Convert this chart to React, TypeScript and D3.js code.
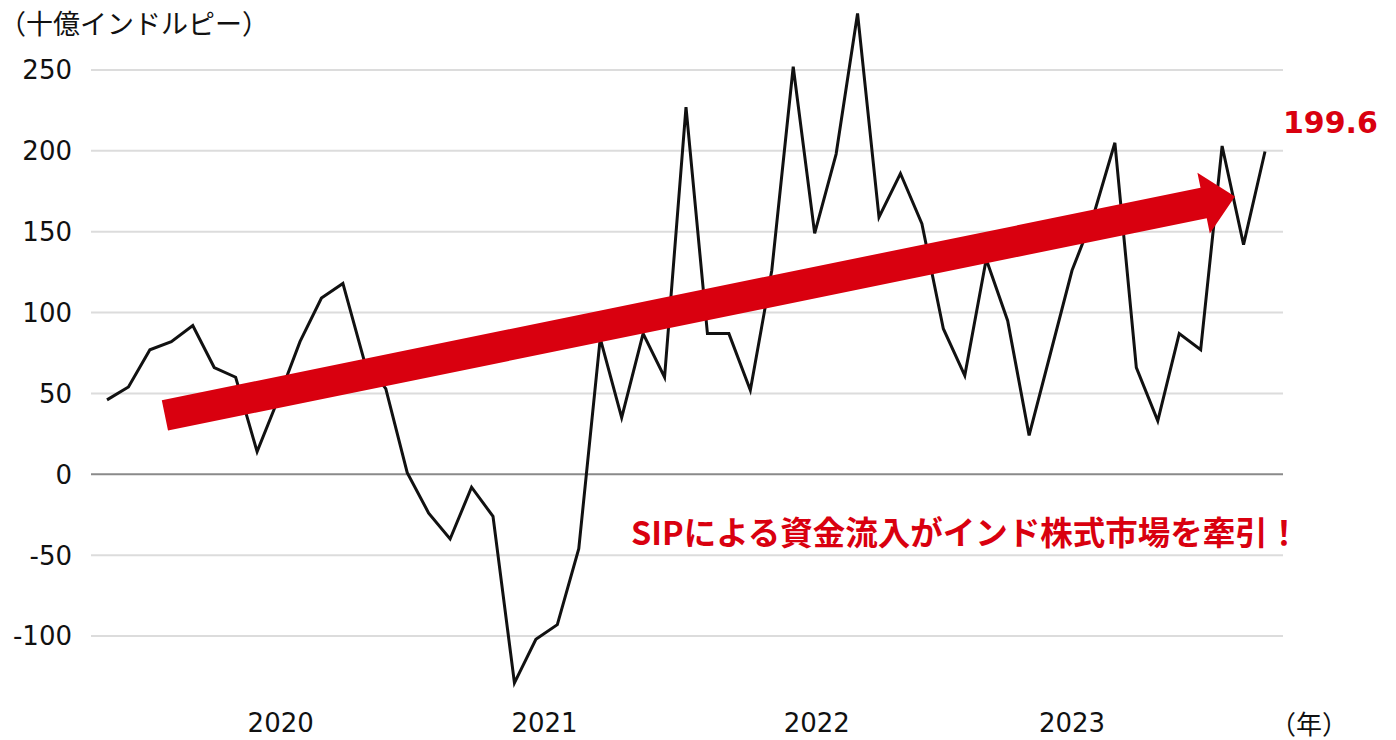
import React from 'react';
import * as d3 from 'd3';

// monthly net inflows (bn INR)
const values = [
  46, 54, 77, 82, 92, 66, 60, 14, 47, 82,
  109, 118, 70, 53, 1, -24, -40, -8, -26, -129,
  -102, -93, -46, 84, 35, 87, 60, 227, 87, 87,
  52, 126, 252, 149, 198, 285, 159, 186, 155, 90,
  61, 133, 95, 24, 75, 126, 160, 205, 66, 33,
  87, 77, 203, 142, 199.6,
];
const yTicks = [250, 200, 150, 100, 50, 0, -50, -100];
const yearLabels = ['2020', '2021', '2022', '2023'];
const yearPos = [8.1, 20.4, 33.1, 45.0]; // in month-index units
const arrowFrom = [2.7, 36.4];
const arrowTo = [52.6, 171.7];
const lastLabel = '199.6';
const unitLabel = '（十億インドルピー）';
const note = 'SIPによる資金流入がインド株式市場を牽引！';

const W = 1396;
const H = 740;
const NUM_FONT = '"DejaVu Sans", Verdana, sans-serif';
const JP_FONT = '"Noto Sans CJK JP", "Noto Sans", sans-serif';
const RED = '#d9000f';

export default function App() {
  const x = d3.scaleLinear().domain([0, values.length - 1]).range([107, 1265]);
  const y = d3.scaleLinear().domain([-100, 250]).range([636, 70]);
  const gridX0 = 91;
  const gridX1 = 1283;

  const line = d3.line<number>()
    .x((_, i) => x(i))
    .y(d => y(d));

  // arrow polygon from its two data-space end points
  const tx = x(arrowFrom[0]), ty = y(arrowFrom[1]);
  const hx = x(arrowTo[0]), hy = y(arrowTo[1]);
  const len = Math.hypot(hx - tx, hy - ty);
  const ux = (hx - tx) / len, uy = (hy - ty) / len;
  const nx = -uy, ny = ux;
  const shaft = 15.5, headW = 31, headL = 32;
  const bx = hx - ux * headL, by = hy - uy * headL;
  const pts: [number, number][] = [
    [tx + nx * shaft, ty + ny * shaft],
    [bx + nx * shaft, by + ny * shaft],
    [bx + nx * headW, by + ny * headW],
    [hx, hy],
    [bx - nx * headW, by - ny * headW],
    [bx - nx * shaft, by - ny * shaft],
    [tx - nx * shaft, ty - ny * shaft],
  ];

  return (
    <svg width={W} height={H} style={{ position: 'absolute', left: 0, top: 0, background: '#fff' }}>
      <text x={-1} y={22} dominantBaseline="central" fontFamily={JP_FONT} fontSize={27} fill="#111">
        {unitLabel}
      </text>

      {yTicks.map(t => (
        <g key={t}>
          <line x1={gridX0} x2={gridX1} y1={y(t)} y2={y(t)}
            stroke={t === 0 ? '#8a8a8a' : '#dcdcdc'} strokeWidth={2} />
          <text x={72} y={y(t)} dy="0.36em" textAnchor="end"
            fontFamily={NUM_FONT} fontSize={26} fill="#111">{t}</text>
        </g>
      ))}

      {yearLabels.map((lab, i) => (
        <text key={lab} x={x(yearPos[i])} y={732} textAnchor="middle"
          fontFamily={NUM_FONT} fontSize={26} fill="#111">{lab}</text>
      ))}
      <text x={1309} y={722} dominantBaseline="central" textAnchor="middle"
        fontFamily={JP_FONT} fontSize={26} fill="#111">（年）</text>

      <path d={line(values) || ''} fill="none" stroke="#111" strokeWidth={3}
        strokeLinejoin="miter" />

      <polygon points={pts.map(p => p.join(',')).join(' ')} fill={RED} />

      <text x={1283} y={133} fontFamily={NUM_FONT} fontWeight="bold" fontSize={30} fill={RED}>
        {lastLabel}
      </text>
      <text x={631} y={530} dominantBaseline="central" fontFamily={JP_FONT}
        fontWeight="bold" fontSize={32.5} fill={RED}>{note}</text>
    </svg>
  );
}
